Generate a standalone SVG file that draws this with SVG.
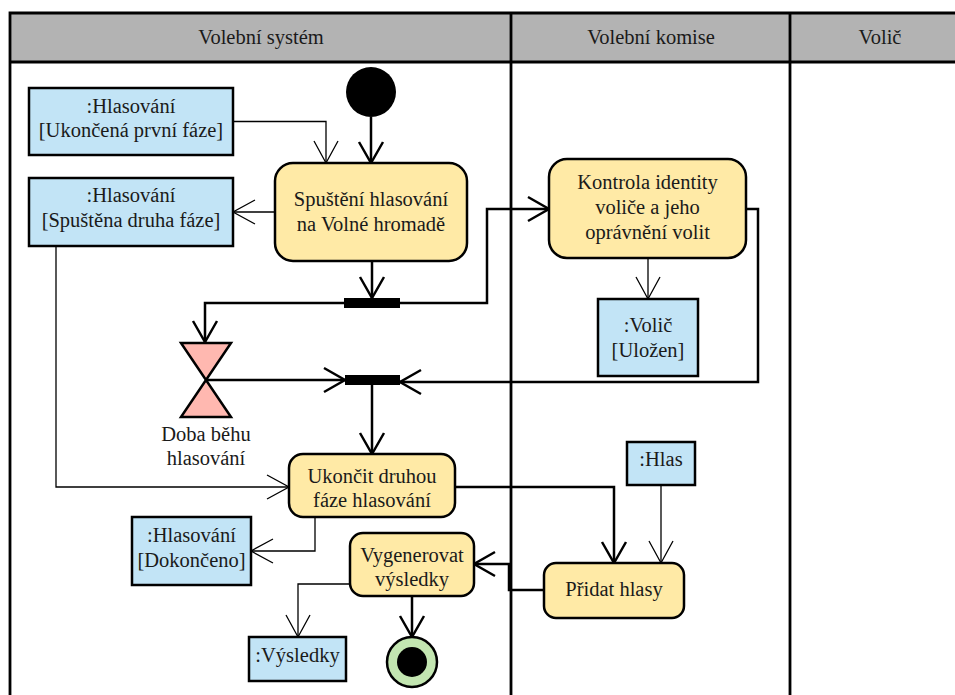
<svg xmlns="http://www.w3.org/2000/svg" width="955" height="695" viewBox="0 0 955 695" font-family="'Liberation Serif', 'Times New Roman', 'DejaVu Serif', serif">
<defs>
<style>
text{font-family:'Liberation Serif','Times New Roman','DejaVu Serif',serif;font-size:20.5px;fill:#1a1a1a;text-anchor:middle}
.lane{stroke:#000;stroke-width:2.8;fill:none}
.act{fill:#ffeaa6;stroke:#000;stroke-width:2.5}
.obj{fill:#c2e4f6;stroke:#000;stroke-width:2.5}
.bar{fill:#000}
.thick{fill:none;stroke:#000;stroke-width:2.5;marker-end:url(#ah)}
.thin{fill:none;stroke:#000;stroke-width:1.3;marker-end:url(#ahThin)}
</style>
<marker id="ah" markerUnits="userSpaceOnUse" viewBox="-25 -15 28 30" markerWidth="28" markerHeight="30" refX="0" refY="0" orient="auto">
<path d="M-21,-12 L0,0 L-21,12" fill="none" stroke="#000" stroke-width="2.5"/>
</marker>
<marker id="ahThin" markerUnits="userSpaceOnUse" viewBox="-25 -15 28 30" markerWidth="28" markerHeight="30" refX="0" refY="0" orient="auto">
<path d="M-22,-12 L0,0 L-22,12" fill="none" stroke="#000" stroke-width="1.3"/>
</marker>
</defs>
<rect width="955" height="695" fill="#fff"/>
<g id="swimlanes">
<rect x="10" y="13" width="970" height="49" fill="#b3b3b3"/>
<path class="lane" d="M10,695 V13 H970 M10,62 H970 M511,13 V695 M790,13 V695"/>
<text x="261" y="43.5">Volební systém</text>
<text x="651" y="43.5">Volební komise</text>
<text x="880" y="43.5">Volič</text>
</g>
<g id="connectors">
<path class="thick" d="M371,117 V163"/>
<path class="thin" d="M233,121.5 H326 V163"/>
<path class="thin" d="M275,212 H233"/>
<path class="thick" d="M372,261 V298"/>
<path class="thick" d="M344,303 H205 V342"/>
<path class="thick" d="M400,303 H487 V209 H549"/>
<path class="thick" d="M206,380 H345"/>
<path class="thick" d="M746,209 H758 V382 H400"/>
<path class="thin" d="M648,258 V299"/>
<path class="thick" d="M372,385 V454"/>
<path class="thin" d="M56,246 V487 H289"/>
<path class="thin" d="M315,517 V551 H251"/>
<path class="thick" d="M455,487 H614 V563"/>
<path class="thin" d="M661,485 V563"/>
<path class="thick" d="M544,590 H509 V564 H474"/>
<path class="thin" d="M350,584 H298 V637"/>
<path class="thick" d="M412,596 V637"/>
</g>
<g id="start"><circle cx="371" cy="92" r="25" fill="#000"/></g>
<g id="obj-ukoncena">
<rect class="obj" x="29" y="88" width="204" height="67"/>
<text x="131" y="113">:Hlasování</text>
<text x="131" y="137">[Ukončená první fáze]</text>
</g>
<g id="obj-spustena">
<rect class="obj" x="29" y="178" width="204" height="68"/>
<text x="131" y="202">:Hlasování</text>
<text x="131" y="227">[Spuštěna druha fáze]</text>
</g>
<g id="act-spusteni">
<rect class="act" x="275" y="163" width="192" height="98" rx="18"/>
<text x="371" y="206">Spuštění hlasování</text>
<text x="371" y="231">na Volné hromadě</text>
</g>
<g id="fork"><rect class="bar" x="344" y="298" width="56" height="10"/></g>
<g id="timer">
<path d="M181,343 H231 L181,417 H231 Z" fill="#ffb8b0" stroke="#000" stroke-width="2.5" stroke-linejoin="miter"/>
<text x="206" y="441">Doba běhu</text>
<text x="206" y="465">hlasování</text>
</g>
<g id="join"><rect class="bar" x="345" y="375" width="55" height="10"/></g>
<g id="act-kontrola">
<rect class="act" x="549" y="159" width="197" height="99" rx="18"/>
<text x="647.5" y="189">Kontrola identity</text>
<text x="647.5" y="214">voliče a jeho</text>
<text x="647.5" y="239">oprávnění volit</text>
</g>
<g id="obj-volic">
<rect class="obj" x="598" y="299" width="100" height="77"/>
<text x="648" y="332">:Volič</text>
<text x="648" y="357">[Uložen]</text>
</g>
<g id="act-ukoncit">
<rect class="act" x="289" y="454" width="166" height="63" rx="14"/>
<text x="372" y="482.5">Ukončit druhou</text>
<text x="372" y="507">fáze hlasování</text>
</g>
<g id="obj-dokonceno">
<rect class="obj" x="132" y="517" width="119" height="68"/>
<text x="191.5" y="542">:Hlasování</text>
<text x="191.5" y="566.5">[Dokončeno]</text>
</g>
<g id="act-vygenerovat">
<rect class="act" x="350" y="533" width="124" height="63" rx="13"/>
<text x="412" y="561.5">Vygenerovat</text>
<text x="412" y="586">výsledky</text>
</g>
<g id="obj-vysledky">
<rect class="obj" x="249" y="637" width="97" height="44"/>
<text x="297.5" y="662">:Výsledky</text>
</g>
<g id="end">
<circle cx="412" cy="662" r="25" fill="#c3e6b1" stroke="#000" stroke-width="2.5"/>
<circle cx="412" cy="662" r="15" fill="#000"/>
</g>
<g id="obj-hlas">
<rect class="obj" x="627" y="442" width="68" height="43"/>
<text x="661" y="466">:Hlas</text>
</g>
<g id="act-pridat">
<rect class="act" x="544" y="563" width="140" height="55" rx="12"/>
<text x="614" y="596">Přidat hlasy</text>
</g>
</svg>
